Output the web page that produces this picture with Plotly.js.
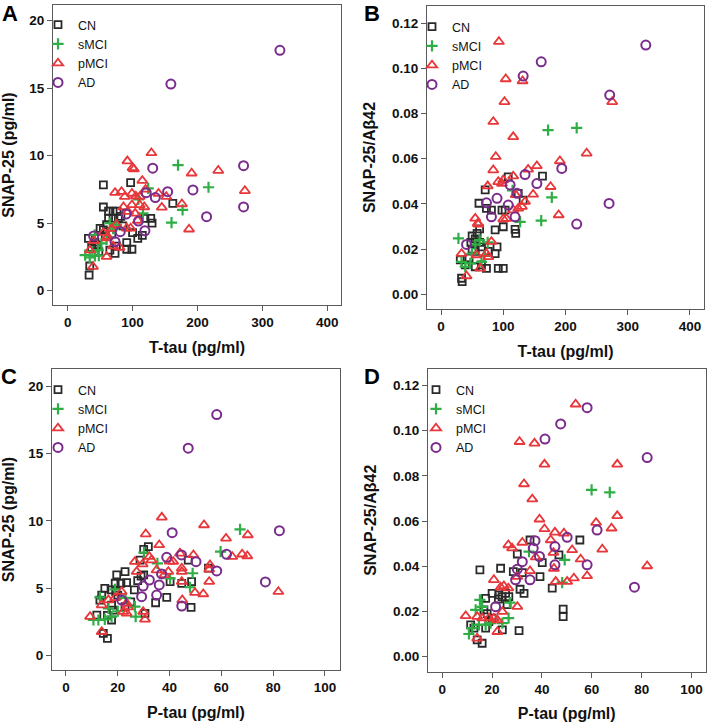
<!DOCTYPE html>
<html><head><meta charset="utf-8">
<script src="https://cdn.plot.ly/plotly-3.0.1.min.js"></script>
<style>html,body{margin:0;padding:0;background:#fff}#chart{width:709px;height:726px}</style>
</head><body><div id="chart"></div>
<script>
// ---------- DATA ----------
const groups = ['CN', 'sMCI', 'pMCI', 'AD'];

// Panel A: T-tau vs SNAP-25
const A_CN_x = [55, 97, 55, 162, 63, 70, 76, 63, 70, 78, 119, 128, 50, 55, 108, 91, 99, 91, 32, 65, 73, 34, 33, 58, 45, 60, 68, 85, 100, 115, 37, 75, 82, 130, 48, 42];
const A_CN_y = [7.83, 8.0, 6.2, 6.47, 5.9, 5.9, 5.9, 5.36, 5.36, 5.36, 5.36, 5.36, 4.62, 4.5, 3.88, 3.56, 3.07, 3.07, 3.88, 3.0, 2.77, 1.83, 1.16, 4.0, 3.4, 4.9, 4.2, 4.8, 4.3, 4.1, 3.2, 3.3, 5.5, 5.0, 2.9, 3.6];
const A_sMCI_x = [170, 217, 124, 109, 177, 160, 116, 65, 42, 27, 34, 42, 47, 52, 70, 60, 38, 75, 48];
const A_sMCI_y = [9.3, 7.66, 7.58, 6.77, 5.98, 5.04, 5.73, 5.0, 4.13, 2.64, 2.47, 2.57, 3.0, 3.5, 4.6, 3.8, 2.9, 4.9, 2.6];
const A_pMCI_x = [129, 92, 100, 102, 115, 191, 232, 273, 73, 83, 88, 99, 111, 140, 152, 176, 99, 111, 118, 145, 86, 93, 104, 187, 91, 97, 55, 60, 68, 62, 34, 60, 39, 70, 80, 75, 120, 105, 108, 40];
const A_pMCI_y = [10.2, 9.6, 9.1, 9.0, 8.15, 8.7, 8.9, 7.4, 7.26, 7.33, 6.96, 7.2, 6.96, 7.2, 6.96, 6.42, 6.35, 6.35, 6.2, 6.17, 6.2, 5.85, 5.73, 4.55, 4.62, 4.62, 4.3, 3.9, 4.6, 4.0, 3.0, 2.52, 1.78, 3.3, 3.2, 4.9, 7.5, 7.0, 5.2, 3.7];
const A_AD_x = [327, 159, 131, 271, 193, 154, 121, 135, 271, 214, 90, 109, 119, 81, 40, 73];
const A_AD_y = [17.8, 15.3, 9.07, 9.26, 7.46, 7.33, 7.26, 6.9, 6.2, 5.48, 5.68, 5.16, 4.44, 4.37, 4.05, 3.63];

// Panel B: T-tau vs SNAP-25/Abeta42
const B_CN_x = [108, 163, 71, 124, 132, 61, 73, 81, 98, 103, 62, 87, 100, 119, 120, 50, 55, 62, 48, 50, 55, 65, 76, 90, 87, 31, 39, 55, 65, 73, 92, 100, 33, 34, 58, 45];
const B_CN_y = [0.052, 0.0523, 0.0462, 0.0447, 0.0417, 0.0403, 0.038, 0.0373, 0.0373, 0.0373, 0.029, 0.0285, 0.0299, 0.0287, 0.027, 0.0258, 0.0245, 0.023, 0.023, 0.02, 0.019, 0.021, 0.019, 0.021, 0.018, 0.0152, 0.013, 0.0122, 0.013, 0.0115, 0.0115, 0.0115, 0.0071, 0.0056, 0.027, 0.016];
const B_sMCI_x = [172, 218, 178, 161, 127, 28, 33, 47, 39, 65, 55, 62, 75, 50, 115, 70];
const B_sMCI_y = [0.0727, 0.0737, 0.0429, 0.0326, 0.0321, 0.0248, 0.0144, 0.0137, 0.0122, 0.0144, 0.022, 0.024, 0.023, 0.018, 0.046, 0.017];
const B_pMCI_x = [93, 104, 131, 102, 275, 84, 116, 234, 88, 191, 154, 140, 84, 116, 100, 92, 98, 75, 176, 148, 130, 124, 116, 189, 100, 55, 59, 33, 57, 73, 76, 81, 63, 41, 105, 120, 60, 135];
const B_pMCI_y = [0.1118, 0.0953, 0.0944, 0.0852, 0.0852, 0.0764, 0.0697, 0.0624, 0.0609, 0.059, 0.0568, 0.0553, 0.055, 0.0523, 0.0506, 0.0498, 0.049, 0.0479, 0.0476, 0.0442, 0.0388, 0.038, 0.0373, 0.0351, 0.0333, 0.0336, 0.0314, 0.018, 0.0174, 0.018, 0.0166, 0.0233, 0.0115, 0.0081, 0.0335, 0.044, 0.031, 0.041];
const B_AD_x = [329, 161, 132, 271, 194, 135, 154, 111, 122, 90, 108, 73, 119, 81, 218, 270, 41];
const B_AD_y = [0.1103, 0.1029, 0.0966, 0.0882, 0.0557, 0.053, 0.049, 0.0484, 0.0447, 0.0425, 0.0395, 0.0405, 0.0343, 0.0343, 0.0311, 0.0402, 0.0221];

// Panel C: P-tau vs SNAP-25
const C_CN_x = [31.8, 30, 47.2, 55, 22.8, 19.6, 21.2, 23.4, 19, 15, 17.4, 13.8, 13.1, 28.6, 27.7, 26.4, 34.6, 38.9, 40.2, 44.7, 48.5, 48.3, 17.6, 18.3, 17.6, 11.9, 14.4, 16, 22.8, 30.5, 19.2, 30, 25, 20, 16, 29];
const C_CN_y = [8.1, 7.9, 7.1, 6.5, 6.24, 6.0, 5.38, 5.42, 5.38, 5.0, 4.88, 4.5, 4.13, 7.1, 5.57, 4.88, 3.93, 4.33, 5.5, 5.37, 5.5, 3.59, 3.76, 3.39, 2.65, 3.02, 1.66, 1.29, 3.64, 3.15, 4.75, 6.0, 4.0, 4.5, 3.0, 5.9];
const C_sMCI_x = [67.2, 30.1, 59.7, 35.3, 48.9, 47.9, 40.2, 13.1, 10.6, 12.5, 15, 17.6, 16.4, 26.6, 26.9, 18.9, 23, 20];
const C_sMCI_y = [9.38, 7.65, 7.72, 6.86, 6.12, 5.08, 5.74, 4.33, 2.65, 2.65, 2.7, 2.9, 3.52, 3.64, 2.9, 4.93, 4.3, 3.3];
const C_pMCI_x = [37, 53.3, 30.8, 70.2, 61.8, 36, 64.2, 68, 70, 44, 49.2, 41.4, 32.2, 33, 26.6, 29.6, 55.6, 55.3, 44.7, 44.7, 27.3, 35, 39.5, 55.3, 49.8, 53, 82, 44.9, 44.7, 9.3, 13.8, 16.4, 13.8, 21.5, 23.4, 22.1, 23.4, 29.8, 30.5, 19, 24, 40, 38];
const C_pMCI_y = [10.27, 9.7, 9.03, 8.96, 8.71, 8.22, 7.35, 7.53, 7.4, 7.6, 7.48, 6.98, 7.35, 7.1, 6.98, 6.8, 6.73, 6.41, 6.49, 6.24, 6.24, 6.36, 6.24, 5.5, 4.68, 4.58, 4.75, 4.13, 5.5, 2.9, 1.78, 4.13, 3.76, 4.75, 3.89, 3.27, 3.15, 3.27, 2.7, 4.3, 3.6, 7.0, 6.0];
const C_AD_x = [58.2, 47.2, 82.4, 41, 62, 44.6, 38.9, 50.2, 58.2, 36.9, 32.2, 29.8, 36, 29.2, 35, 21.5, 44.7, 77];
const C_AD_y = [17.9, 15.4, 9.28, 9.13, 7.53, 7.48, 7.3, 6.98, 6.29, 6.07, 5.62, 5.17, 5.25, 4.38, 4.5, 4.13, 3.69, 5.48];

// Panel D: P-tau vs SNAP-25/Abeta42
const D_CN_x = [55.2, 35.2, 44.1, 48.5, 48.5, 46.8, 40.1, 39.2, 28.5, 32.1, 30.1, 31.2, 32.8, 30.8, 23.4, 15.1, 25.4, 26.7, 24, 22.7, 20, 16, 14, 11.4, 12.7, 17.4, 18.7, 16.7, 17.4, 24.1, 18, 20, 22.5, 26];
const D_CN_y = [0.0516, 0.0516, 0.0303, 0.021, 0.0177, 0.045, 0.0416, 0.0354, 0.0376, 0.0372, 0.0454, 0.0298, 0.028, 0.0115, 0.0391, 0.0384, 0.028, 0.0265, 0.0265, 0.0273, 0.028, 0.0059, 0.0074, 0.014, 0.0126, 0.0126, 0.0155, 0.0207, 0.0258, 0.0118, 0.019, 0.017, 0.0255, 0.023];
const D_sMCI_x = [59.9, 67.2, 48.1, 49.1, 27.1, 15.1, 13.4, 10.7, 12, 14.7, 17.4, 19.4, 26.6, 24.1, 34.8, 16];
const D_sMCI_y = [0.0738, 0.0727, 0.0327, 0.0428, 0.0239, 0.0251, 0.0207, 0.01, 0.0126, 0.014, 0.014, 0.0148, 0.017, 0.0148, 0.0465, 0.022];
const D_pMCI_x = [53.5, 31, 37, 41, 70.2, 32.8, 36.1, 70.2, 39, 61.7, 67.9, 41, 45.2, 48.8, 26.5, 28, 32.1, 52.1, 64.2, 43.5, 82.2, 58.1, 55.5, 52.8, 50.1, 45.5, 44.8, 44.6, 35.2, 37.5, 30.1, 30.1, 26.5, 24.7, 23.4, 20.7, 24.1, 9.4, 14, 16, 18.7, 20.7, 22.1, 22.1, 14];
const D_pMCI_y = [0.1117, 0.0951, 0.0944, 0.0851, 0.0851, 0.0764, 0.0697, 0.0623, 0.0608, 0.0593, 0.0568, 0.0565, 0.055, 0.0546, 0.0494, 0.048, 0.0505, 0.0472, 0.0475, 0.0516, 0.0401, 0.0357, 0.0431, 0.0347, 0.0332, 0.0332, 0.039, 0.046, 0.0379, 0.044, 0.0221, 0.0354, 0.0303, 0.0313, 0.0307, 0.034, 0.0199, 0.018, 0.0177, 0.017, 0.017, 0.017, 0.0162, 0.011, 0.0081];
const D_AD_x = [58.1, 47.5, 41.2, 82.2, 62.1, 50.1, 37.2, 45.2, 58.1, 45.2, 39, 35.2, 32.1, 30.1, 29.4, 21.4, 77.1, 36.5];
const D_AD_y = [0.1102, 0.103, 0.0963, 0.0881, 0.056, 0.0528, 0.0513, 0.0487, 0.0406, 0.0406, 0.0443, 0.034, 0.042, 0.0387, 0.034, 0.0221, 0.0307, 0.048];

// Axis ticks / labels
const ttauTicks = [0, 100, 200, 300, 400];
const ptauTicks = [0, 20, 40, 60, 80, 100];
const snapTicks = [0, 5, 10, 15, 20];
const ratioTicks = [0, 0.02, 0.04, 0.06, 0.08, 0.10, 0.12];
const xTitles = ['T-tau (pg/ml)', 'T-tau (pg/ml)', 'P-tau (pg/ml)', 'P-tau (pg/ml)'];
const yTitles = ['SNAP-25 (pg/ml)', 'SNAP-25/Aβ42', 'SNAP-25 (pg/ml)', 'SNAP-25/Aβ42'];
const panelLetters = ['A', 'B', 'C', 'D'];

// ---------- STYLE / LAYOUT ----------
const W = 709, H = 726;
const FONT = 'Liberation Sans, Arial, Helvetica, sans-serif';
const styles = {
  CN:   {symbol: 'square-open',      size: 7, color: '#2a2a2a', lw: 1.8},
  sMCI: {symbol: 'cross-thin-open',  size: 8, color: '#2fae45', lw: 2.2},
  pMCI: {symbol: 'triangle-up-open', size: 9, color: '#e8373a', lw: 1.8},
  AD:   {symbol: 'circle-open',      size: 9, color: '#7a2c8c', lw: 2}
};
const series = [
  {CN: [A_CN_x, A_CN_y], sMCI: [A_sMCI_x, A_sMCI_y], pMCI: [A_pMCI_x, A_pMCI_y], AD: [A_AD_x, A_AD_y]},
  {CN: [B_CN_x, B_CN_y], sMCI: [B_sMCI_x, B_sMCI_y], pMCI: [B_pMCI_x, B_pMCI_y], AD: [B_AD_x, B_AD_y]},
  {CN: [C_CN_x, C_CN_y], sMCI: [C_sMCI_x, C_sMCI_y], pMCI: [C_pMCI_x, C_pMCI_y], AD: [C_AD_x, C_AD_y]},
  {CN: [D_CN_x, D_CN_y], sMCI: [D_sMCI_x, D_sMCI_y], pMCI: [D_pMCI_x, D_pMCI_y], AD: [D_AD_x, D_AD_y]}
];
// frames in pixels [left, right, top, bottom]
const frames = [[53, 341, 5, 305], [427, 704, 6, 309], [52, 340, 369, 670], [428, 705.5, 369, 671.5]];
const xRanges = [[-22.6, 421.1], [-22.5, 422.5], [-5.4, 105.8], [-5.73, 105.6]];
const yRanges = [[-1.06, 21.16], [-0.0065, 0.1276], [-1.06, 21.28], [-0.0066, 0.1273]];
const xTickSets = [ttauTicks, ttauTicks, ptauTicks, ptauTicks];
const yTickSets = [snapTicks, ratioTicks, snapTicks, ratioTicks];
const yFormats = ['d', '.2f', 'd', '.2f'];
const letterPos = [[9.5, 13], [371.5, 13], [8.5, 376], [371.5, 376]];
const legendPos = [[38, 10], [412, 12], [38, 375], [416, 375]];

const traces = [];
const layout = {
  width: W, height: H, margin: {l: 0, r: 0, t: 0, b: 0},
  paper_bgcolor: '#fff', plot_bgcolor: '#fff', showlegend: true,
  font: {family: FONT, color: '#111'}, annotations: []
};
const lineCol = '#5a5a5a';
for (let p = 0; p < 4; p++) {
  const sfx = p === 0 ? '' : String(p + 1);
  const [l, r, t, b] = frames[p];
  const legName = 'legend' + sfx;
  groups.forEach(g => {
    const s = styles[g];
    traces.push({
      type: 'scatter', mode: 'markers', name: g,
      x: series[p][g][0], y: series[p][g][1],
      xaxis: 'x' + sfx, yaxis: 'y' + sfx, legend: legName,
      marker: {symbol: s.symbol, size: s.size, color: s.color, line: {color: s.color, width: s.lw}},
      hoverinfo: 'x+y+name'
    });
  });
  const common = {
    showgrid: false, zeroline: false, showline: true, mirror: true,
    linecolor: lineCol, linewidth: 1, ticks: 'outside', ticklen: 5, tickwidth: 1, tickcolor: lineCol,
    tickfont: {family: FONT, size: 13.5, weight: 700, color: '#111'}, automargin: false, fixedrange: true
  };
  layout['xaxis' + sfx] = Object.assign({}, common, {
    domain: [l / W, r / W], range: xRanges[p], anchor: 'y' + sfx,
    tickmode: 'array', tickvals: xTickSets[p],
    title: {text: xTitles[p], font: {family: FONT, size: 16, weight: 700, color: '#111'}, standoff: 12}
  });
  layout['yaxis' + sfx] = Object.assign({}, common, {
    domain: [1 - b / H, 1 - t / H], range: yRanges[p], anchor: 'x' + sfx,
    tickmode: 'array', tickvals: yTickSets[p], tickformat: yFormats[p],
    title: {text: yTitles[p], font: {family: FONT, size: 16, weight: 700, color: '#111'}, standoff: 12}
  });
  layout[legName] = {
    x: legendPos[p][0] / W, y: 1 - legendPos[p][1] / H, xanchor: 'left', yanchor: 'top',
    bgcolor: 'rgba(0,0,0,0)', borderwidth: 0, tracegroupgap: 0,
    font: {family: FONT, size: 12.5, color: '#111'}
  };
  layout.annotations.push({
    xref: 'paper', yref: 'paper', x: letterPos[p][0] / W, y: 1 - letterPos[p][1] / H,
    xanchor: 'center', yanchor: 'middle', showarrow: false,
    text: panelLetters[p], font: {family: FONT, size: 22, weight: 700, color: '#000'}
  });
}
Plotly.newPlot('chart', traces, layout, {displayModeBar: false, staticPlot: true});
</script></body></html>
